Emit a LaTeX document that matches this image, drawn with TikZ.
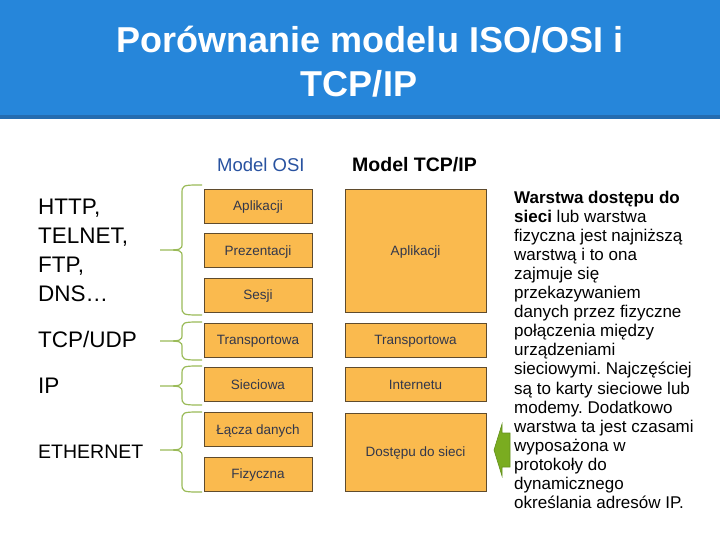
\documentclass[tikz,border=0pt]{standalone}
\usepackage{fontspec}
\setmainfont{Liberation Sans}
\frenchspacing
\definecolor{titleblue}{RGB}{38,134,218}
\definecolor{titledark}{RGB}{36,108,176}
\definecolor{boxfill}{RGB}{250,186,78}
\definecolor{boxline}{RGB}{95,75,45}
\definecolor{boxtext}{RGB}{50,55,75}
\definecolor{osiblue}{RGB}{40,82,160}
\definecolor{bracegreen}{RGB}{155,187,89}
\definecolor{arrowgreen}{RGB}{122,172,32}
\definecolor{arrowline}{RGB}{100,145,30}
\newcommand\fsz[2]{\fontsize{#1}{#2}\selectfont}
\newcommand\drawbrace[3]{%
  \draw[bracestyle] (202,#1) .. controls (182,#1) .. (182,{#1+9})
     -- (182,{#3-7}) .. controls (182,#3) .. (160,#3)
     .. controls (182,#3) .. (182,{#3+7})
     -- (182,{#2-9}) .. controls (182,#2) .. (202,#2);}
\begin{document}
\begin{tikzpicture}[x=1pt,y=-1pt,
  layer/.style={draw=boxline, line width=0.8pt, fill=boxfill, inner sep=0pt,
    text=boxtext, font=\fsz{13.5}{15}, text height=9.8pt, text depth=0.8pt},
  osibox/.style={layer, minimum width=108pt, minimum height=34pt},
  tcpbox/.style={layer, minimum width=141pt},
  bracestyle/.style={draw=bracegreen, line width=1.2pt},
  lbl/.style={anchor=base west, inner sep=0pt, text=black}]
\useasboundingbox (0,0) rectangle (720,540);
\fill[white] (0,0) rectangle (720,540);
% title band
\fill[titleblue] (0,0) rectangle (720,115);
\fill[titledark] (0,115) rectangle (720,119);
\node[anchor=base, inner sep=0pt, text=white, font=\bfseries\fsz{36}{40}] (t1) at (370,53) {Porównanie modelu ISO/OSI i};
\node[anchor=base, inner sep=0pt, text=white, font=\bfseries\fsz{36}{40}] (t2) at (359,97) {TCP/IP};
% headings
\node[lbl, text=osiblue, font=\fsz{18.5}{20}] (hosi) at (217,172) {Model OSI};
\node[lbl, font=\bfseries\fsz{19.5}{21}] (htcp) at (352,172) {Model TCP/IP};
% OSI column
\node[osibox] (o7) at (258,206) {Aplikacji};
\node[osibox] (o6) at (258,250.5) {Prezentacji};
\node[osibox] (o5) at (258,295) {Sesji};
\node[osibox] (o4) at (258,340) {Transportowa};
\node[osibox] (o3) at (258,384.5) {Sieciowa};
\node[osibox] (o2) at (258,429.5) {Łącza danych};
\node[osibox] (o1) at (258,474) {Fizyczna};
% TCP/IP column
\node[tcpbox, minimum height=123pt] (p4) at (415.5,250.5) {Aplikacji};
\node[tcpbox, minimum height=34pt] (p3) at (415.5,340) {Transportowa};
\node[tcpbox, minimum height=34pt] (p2) at (415.5,384.5) {Internetu};
\node[tcpbox, minimum height=78pt] (p1) at (415.5,452) {Dostępu do sieci};
% braces
\drawbrace{185}{315}{250}
\drawbrace{322}{360}{341}
\drawbrace{366}{405}{386}
\drawbrace{412}{492}{450}
% left labels
\node[lbl, align=left, font=\fsz{22.5}{29}] (proto) at (38,301) {HTTP,\\TELNET,\\FTP,\\DNS…};
\node[lbl, font=\fsz{22.5}{29}] (tcpudp) at (38,347) {TCP/UDP};
\node[lbl, font=\fsz{22.5}{29}] (ip) at (38,393) {IP};
\node[lbl, font=\fsz{19.5}{22}] (eth) at (38,458) {ETHERNET};
% arrow
\filldraw[fill=arrowgreen, draw=arrowline, line width=0.6pt]
  (494,450) -- (502,424) -- (502,433) -- (510,433) -- (510,467) -- (502,467) -- (502,476) -- cycle;
% description
\node[anchor=north west, inner sep=0pt, align=left, font=\fsz{17}{19.1}] (desc) at (514,190.5)
{\textbf{Warstwa dostępu do}\\
\textbf{sieci} lub warstwa\\
fizyczna jest najniższą\\
warstwą i to ona\\
zajmuje się\\
przekazywaniem\\
danych przez fizyczne\\
połączenia między\\
urządzeniami\\
sieciowymi. Najczęściej\\
są to karty sieciowe lub\\
modemy. Dodatkowo\\
warstwa ta jest czasami\\
wyposażona w\\
protokoły do\\
dynamicznego\\
określania adresów IP.};
\end{tikzpicture}
\end{document}
